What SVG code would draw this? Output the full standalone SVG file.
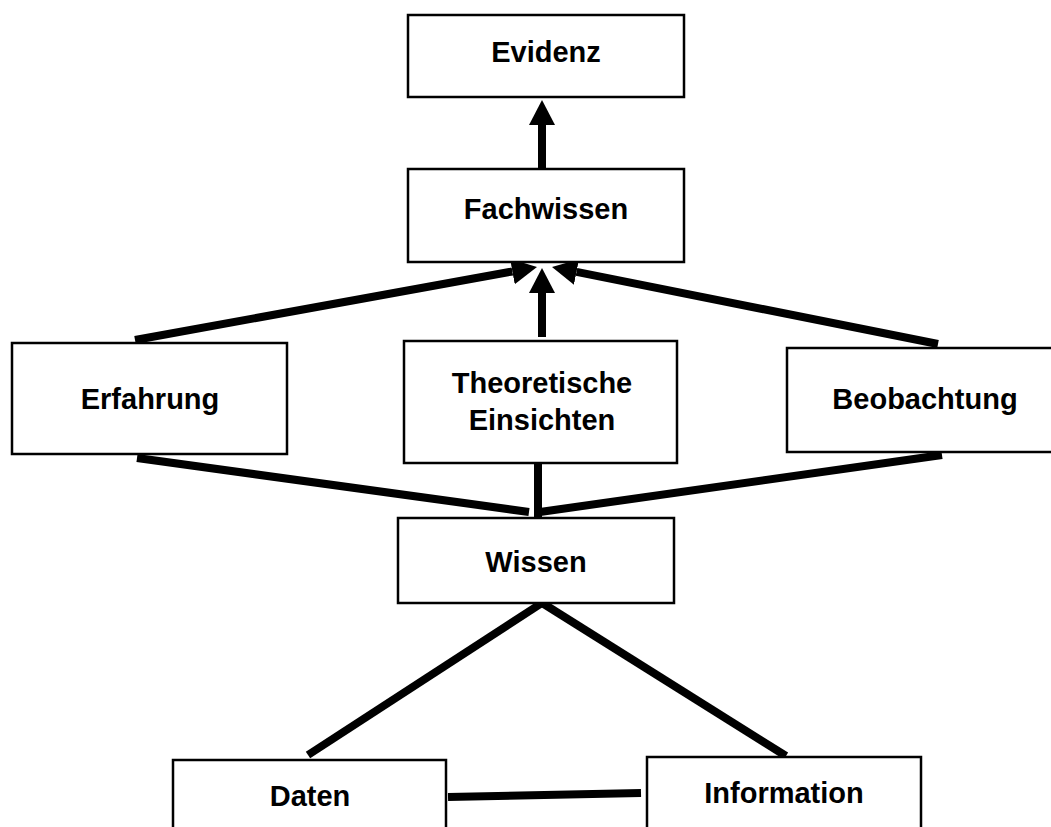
<svg xmlns="http://www.w3.org/2000/svg" width="1051" height="827" viewBox="0 0 1051 827">
<style>
.box{fill:#fff;stroke:#000;stroke-width:2.5}
.lbl{font-family:"Liberation Sans",Arial,sans-serif;font-weight:bold;font-size:29px;text-anchor:middle;fill:#000}
.con{stroke:#000;stroke-width:8;fill:none}
.arr{marker-end:url(#ah)}
</style>
<defs>
<marker id="ah" markerUnits="userSpaceOnUse" markerWidth="26" markerHeight="28" refX="0" refY="13" orient="auto" viewBox="0 0 26 26">
<path d="M0,0 L25,13 L0,26 z" fill="#000"/>
</marker>
</defs>
<rect width="1051" height="827" fill="#fff"/>
<g id="connectors">
<line class="con arr" x1="542" y1="169" x2="542" y2="125"/>
<line class="con arr" x1="135" y1="340" x2="512.4" y2="271.5"/>
<line class="con arr" x1="542" y1="337" x2="542" y2="293"/>
<line class="con arr" x1="938" y1="344" x2="576.5" y2="271.9"/>
<line class="con" x1="137" y1="458" x2="529" y2="512"/>
<line class="con" x1="538" y1="460" x2="538" y2="517"/>
<line class="con" x1="942" y1="455" x2="540" y2="512"/>
<line class="con" x1="545" y1="601" x2="308" y2="755"/>
<line class="con" x1="539" y1="601" x2="786" y2="756"/>
<line class="con" x1="448" y1="797" x2="641" y2="793"/>
</g>
<g id="evidenz"><rect class="box" x="408" y="15" width="276" height="82"/><text class="lbl" x="546" y="62">Evidenz</text></g>
<g id="fachwissen"><rect class="box" x="408" y="169" width="276" height="93"/><text class="lbl" x="546" y="219">Fachwissen</text></g>
<g id="erfahrung"><rect class="box" x="12" y="343" width="275" height="111"/><text class="lbl" x="150" y="409">Erfahrung</text></g>
<g id="theoretische"><rect class="box" x="404" y="341" width="273" height="122"/><text class="lbl" x="542" y="393">Theoretische</text><text class="lbl" x="542" y="430">Einsichten</text></g>
<g id="beobachtung"><rect class="box" x="787" y="348" width="276" height="104"/><text class="lbl" x="925" y="409">Beobachtung</text></g>
<g id="wissen"><rect class="box" x="398" y="518" width="276" height="85"/><text class="lbl" x="536" y="572">Wissen</text></g>
<g id="daten"><rect class="box" x="173" y="760" width="273" height="90"/><text class="lbl" x="310" y="806">Daten</text></g>
<g id="information"><rect class="box" x="647" y="757" width="274" height="90"/><text class="lbl" x="784" y="803">Information</text></g>
</svg>
